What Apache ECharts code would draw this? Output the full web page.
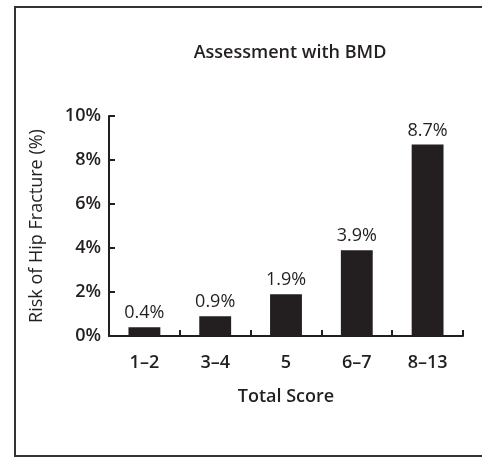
<!DOCTYPE html>
<html>
<head>
<meta charset="utf-8">
<script src="https://cdn.jsdelivr.net/npm/echarts@6/dist/echarts.min.js"></script>
<style>
html,body{margin:0;padding:0;background:#fff;}
#chart{width:482px;height:459px;}
</style>
</head>
<body>
<div id="chart"></div>
<script>
const categories = ['1–2', '3–4', '5', '6–7', '8–13'];
const riskValues = [0.4, 0.9, 1.9, 3.9, 8.7];
const yTicks = { min: 0, max: 10, interval: 2 };

const ink = '#231f20';
const font = '"Open Sans", Lato, sans-serif';
const chart = echarts.init(document.getElementById('chart'), null, { renderer: 'canvas' });
chart.setOption({
  backgroundColor: '#fff',
  animation: false,
  title: {
    text: 'Assessment with BMD',
    left: 285,
    textAlign: 'center',
    top: 39,
    textStyle: { fontFamily: font, fontSize: 18, fontWeight: 600, color: ink }
  },
  graphic: [{
    type: 'rect',
    shape: { x: 15, y: 7, width: 480, height: 449 },
    style: { fill: 'none', stroke: '#333', lineWidth: 2 },
    silent: true
  }],
  grid: { left: 109, right: 19, top: 116, bottom: 123 },
  xAxis: {
    type: 'category',
    data: categories,
    name: 'Total Score',
    nameLocation: 'middle',
    nameGap: 52,
    nameTextStyle: { fontFamily: font, fontSize: 18, fontWeight: 600, color: ink },
    axisLine: { lineStyle: { color: ink, width: 2 } },
    axisTick: { show: true, inside: true, length: 6, interval: 0, lineStyle: { color: ink, width: 2 } },
    axisLabel: { fontFamily: font, fontSize: 18, color: ink, margin: 18, fontWeight: 600 },
    splitLine: { show: false }
  },
  yAxis: {
    type: 'value',
    min: yTicks.min,
    max: yTicks.max,
    interval: yTicks.interval,
    name: 'Risk of Hip Fracture (%)',
    nameLocation: 'middle',
    nameGap: 63,
    nameTextStyle: { fontFamily: font, fontSize: 18, fontWeight: 500, color: ink },
    axisLine: { show: true, lineStyle: { color: ink, width: 2 } },
    axisTick: { show: true, inside: true, length: 6, lineStyle: { color: ink, width: 2 } },
    axisLabel: { fontFamily: font, fontSize: 18, color: ink, margin: 8, formatter: '{value}%', fontWeight: 600 },
    splitLine: { show: false }
  },
  series: [{
    type: 'bar',
    data: riskValues,
    barWidth: '45%',
    itemStyle: { color: ink },
    label: {
      show: true,
      position: 'top',
      distance: 5,
      formatter: p => p.value + '%',
      fontFamily: font,
      fontSize: 18,
      fontWeight: 500,
      color: ink
    }
  }]
});
</script>
</body>
</html>
